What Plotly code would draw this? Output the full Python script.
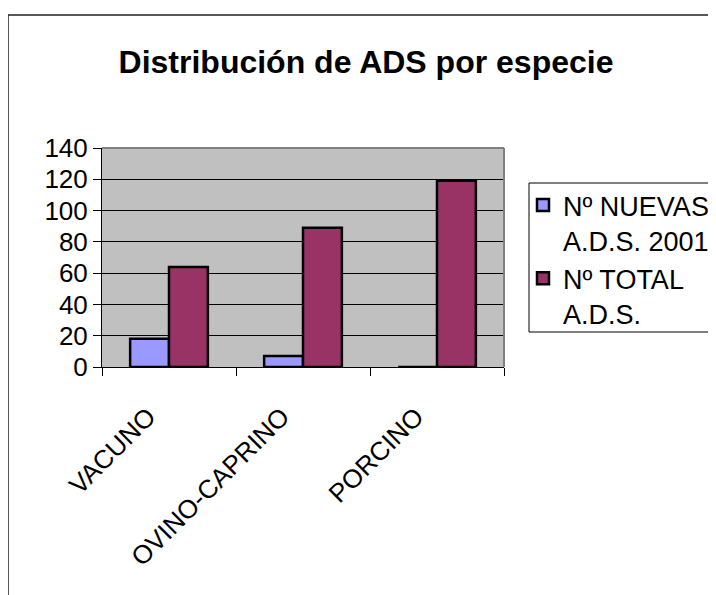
import plotly.graph_objects as go

categories = ["VACUNO", "OVINO-CAPRINO", "PORCINO"]
nuevas_2001 = [18, 7, 0]
total_ads = [64, 89, 119]
series_names = ["Nº NUEVAS<br>A.D.S. 2001", "Nº TOTAL<br>A.D.S."]
y_ticks = [0, 20, 40, 60, 80, 100, 120, 140]

FONT = "Liberation Sans, Arial, sans-serif"
OFF = 8  # page body margin
W, H = 716 - OFF, 595 - OFF
# plot area in reference (window) pixels
PX0, PX1, PY0, PY1 = 102, 504, 148, 367
L, R, T = PX0 - OFF, W - (PX1 - OFF), PY0 - OFF
B = H - (PY1 - OFF)
pw, ph = W - L - R, H - T - B

def px_x(x):
    return (x - PX0) / pw

def px_y(y):
    return (PY1 - y) / ph

fig = go.Figure()
fig.add_bar(x=categories, y=nuevas_2001, name=series_names[0],
            marker=dict(color="#9999FF", line=dict(color="black", width=2.5)))
fig.add_bar(x=categories, y=total_ads, name=series_names[1],
            marker=dict(color="#993366", line=dict(color="black", width=2.5)))

fig.update_layout(
    width=W, height=H,
    margin=dict(l=L, r=R, t=T, b=B, autoexpand=False),
    paper_bgcolor="white",
    plot_bgcolor="#C0C0C0",
    barmode="group",
    bargap=0.42,
    bargroupgap=0,
    font=dict(family=FONT, color="black", size=26),
    title=dict(text="<b>Distribución de ADS por especie</b>",
               font=dict(size=32, family=FONT, color="black"),
               xref="paper", x=px_x(366), xanchor="center",
               yref="container", y=1 - (62 - OFF) / H, yanchor="middle"),
    legend=dict(x=px_x(523), y=px_y(181), xanchor="left", yanchor="top",
                font=dict(size=27, family=FONT, color="black"),
                bgcolor="rgba(0,0,0,0)", borderwidth=0, valign="top",
                itemwidth=30, tracegroupgap=10),
    xaxis=dict(showline=True, linecolor="black", linewidth=1,
               ticks="outside", tickson="boundaries", ticklen=8,
               tickcolor="black", tickangle=-45,
               ticklabelshift=-21, ticklabelstandoff=23,
               tickfont=dict(size=26, family=FONT, color="black"),
               showgrid=False),
    yaxis=dict(range=[0, 140], tickvals=y_ticks, showline=True,
               linecolor="black", linewidth=1, ticks="outside", ticklen=8,
               tickcolor="black", showgrid=True, gridcolor="black",
               gridwidth=1, zeroline=False,
               tickfont=dict(size=26, family=FONT, color="black")),
    shapes=[
        # outer chart frame
        dict(type="rect", xref="paper", yref="paper",
             x0=px_x(8), x1=px_x(740), y0=px_y(15), y1=px_y(640),
             line=dict(color="#222222", width=1.5), layer="above"),
        # plot area top and right border
        dict(type="line", xref="paper", yref="paper", x0=0, x1=1, y0=1, y1=1,
             line=dict(color="#808080", width=2), layer="above"),
        dict(type="line", xref="paper", yref="paper", x0=1, x1=1, y0=0, y1=1,
             line=dict(color="#808080", width=2), layer="above"),
        # legend box
        dict(type="rect", xref="paper", yref="paper",
             x0=px_x(529), x1=px_x(740), y0=px_y(183), y1=px_y(332),
             line=dict(color="black", width=1), layer="above"),
    ],
)

fig.write_html("out.html")
